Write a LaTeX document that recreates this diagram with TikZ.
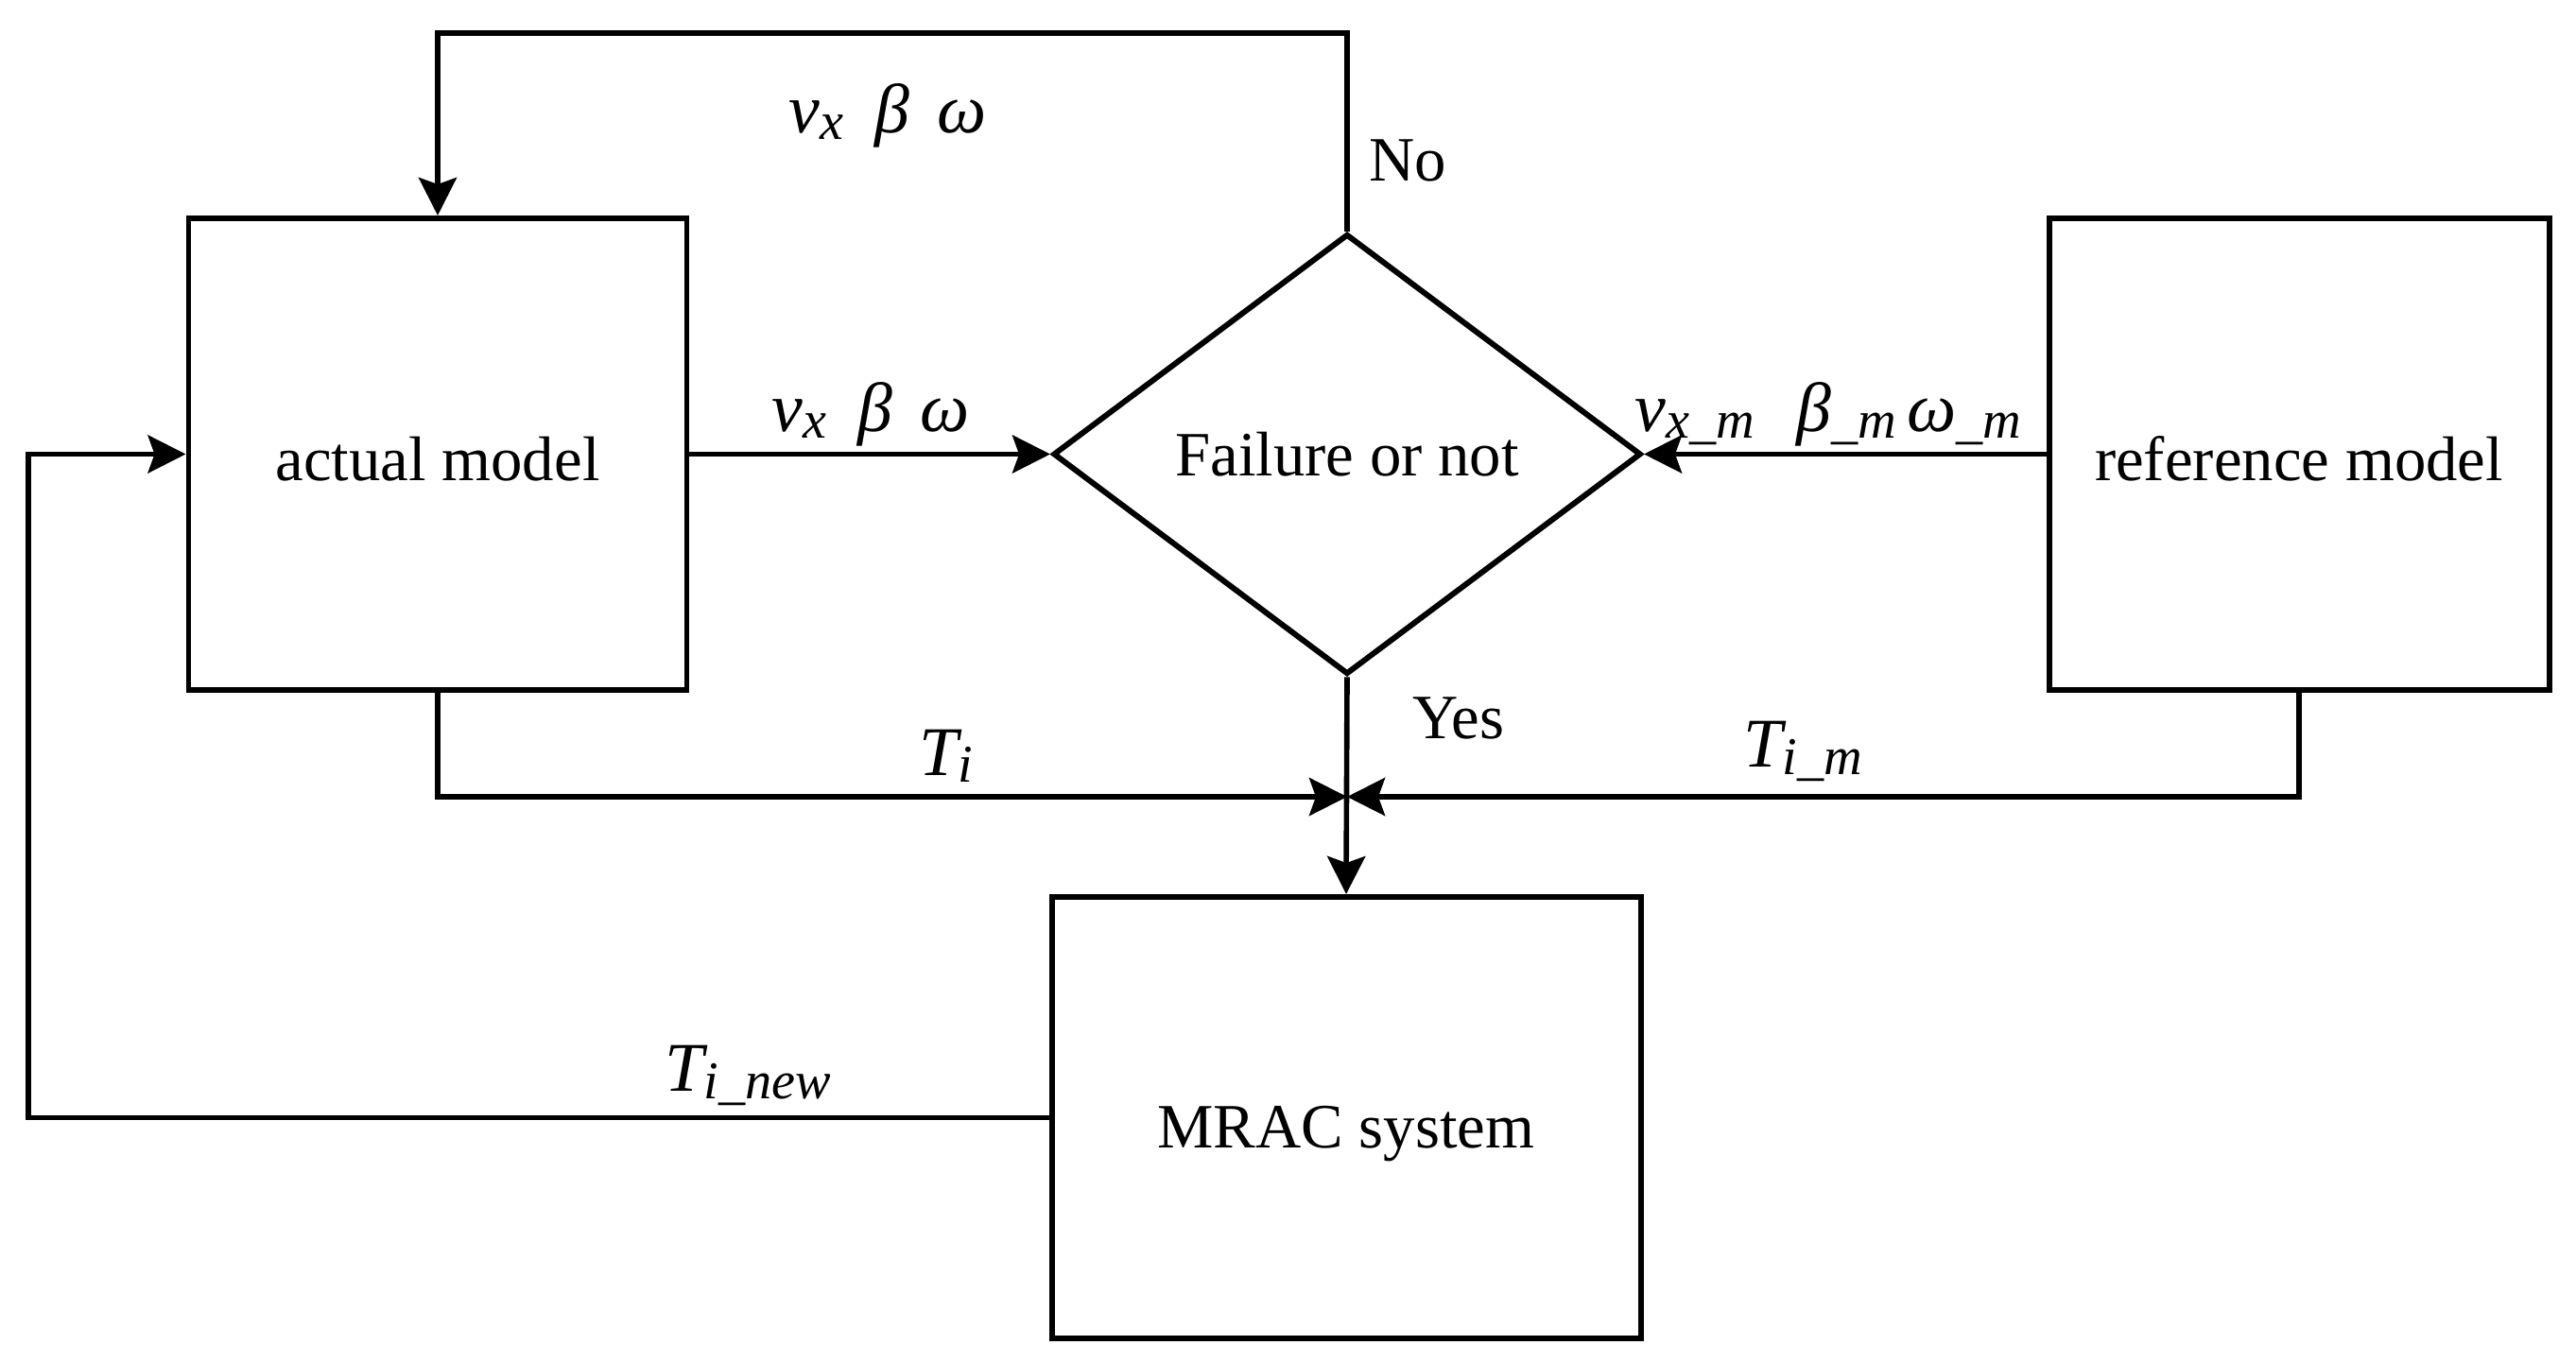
\documentclass[tikz,border=0pt]{standalone}
\usepackage{fontspec}
\setmainfont{Liberation Serif}
\usepackage{tikz}
\usetikzlibrary{positioning}
\usetikzlibrary{arrows,arrows.meta,shapes}
\usetikzlibrary{calc}
\tikzstyle{block}=[rectangle,draw,line width=1.7pt,inner sep=0pt,font=\fontsize{19}{23}\selectfont]
\tikzstyle{decision}=[diamond,draw,line width=1.7pt,inner sep=0pt,aspect=1.335,minimum width=6.22cm,minimum height=4.66cm,font=\fontsize{19}{23}\selectfont]
\tikzstyle{edge} = [draw,line width=1.6pt,-{Stealth[length=4mm,width=4mm,inset=0.7mm]}]
\tikzstyle{weight} = [font=\fontsize{21}{25}\selectfont\itshape,inner sep=0pt]
\newcommand{\lowsub}[1]{\raisebox{-0.1em}{\fontsize{16}{16}\selectfont #1}}

\begin{document}
\begin{tikzpicture}
    \useasboundingbox (0,0) rectangle (27.25,14.40);

    % First we draw the blocks
    \foreach \pos/\name/\bw/\bh/\dy/\lbl in {{(4.63,9.595)/actual/5.27/4.99/-0.28/actual model},
        {(24.32,9.595)/ref/5.29/4.99/-0.28/reference model}, {(14.24,2.575)/mrac/6.23/4.67/-0.32/MRAC system}}
        \node[block,minimum width=\bw cm,minimum height=\bh cm] (\name) at \pos {\raisebox{\dy cm}[0pt][0pt]{\lbl}};

    \node[decision] (dec) at (14.25,9.595) {Failure or not};

    % Corner points of the loops
    \coordinate (topr) at (14.25,14.05);
    \coordinate (topl) at (4.63,14.05);
    \coordinate (join) at (14.25,5.97);
    \coordinate (loopl) at (0.30,2.575);

    % Connect blocks with edges
    \path[edge] (dec.north) -- (topr) -- (topl) -- (actual.north);
    \path[edge] (actual.east) -- (dec.west);
    \path[edge] (ref.west) -- (dec.east);
    \path[edge] (actual.south) |- (join);
    \path[edge] (ref.south) |- (join);
    \path[edge] (dec.south) -- (mrac.north);
    \path[edge] (mrac.west) -- (loopl) |- (actual.west);

    % Labels of the signals
    \node[weight] (lbltop) at (9.39,13.18) {v\lowsub{x}\hspace{0.45em}β\hspace{0.4em}ω};
    \node[weight] (lblmid) at (9.21,10.02) {v\lowsub{x}\hspace{0.45em}β\hspace{0.4em}ω};
    \node[weight] (lblref) at (19.34,10.02) {v\lowsub{x\_m}\hspace{0.6em}β\lowsub{\_m}\hspace{0.15em}ω\lowsub{\_m}};
    \node[weight] (lblti) at (10.01,6.40) {T\lowsub{i}};
    \node[weight] (lbltim) at (19.07,6.45) {T\lowsub{i\_m}};
    \node[weight] (lbltinew) at (7.91,3.02) {T\lowsub{i\_new}};
    \node[font=\fontsize{19}{23}\selectfont,inner sep=0pt] (no) at (14.89,12.70) {No};
    \node[font=\fontsize{19}{23}\selectfont,inner sep=0pt] (yes) at (15.43,6.80) {Yes};

\end{tikzpicture}
\end{document}
